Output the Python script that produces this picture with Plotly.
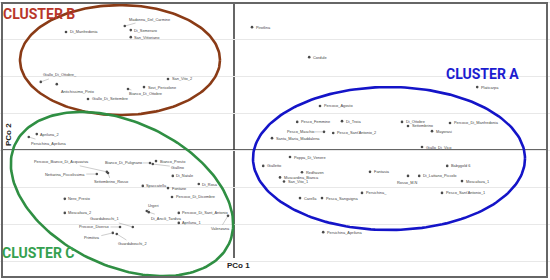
import numpy as np
import plotly.graph_objects as go

# PCoA scores (PCo 1, PCo 2), one set of lists per cluster
names_b = ["Madonna_Del_Carmine", "Di_Semeraro", "San_Vittoriano", "Di_Manfredonia",
           "Giallo_Di_Ottobre_", "Antichissimo_Pinto", "Giallo_Di_Settembre",
           "Bianco_Di_Ottobre", "Sovi_Pericolone", "San_Vito_2"]
pco1_b = [-0.273, -0.258, -0.258, -0.420, -0.483, -0.443, -0.365, -0.265, -0.225, -0.165]
pco2_b = [0.335, 0.324, 0.305, 0.319, 0.184, 0.178, 0.138, 0.165, 0.170, 0.192]

names_a = ["Pirotlina", "Cordule", "Platicarpa", "Percoco_Agosto", "Pesco_Femmine", "Di_Troia",
           "Pesco_Maschio", "Pesco_Sant'Antonio_2", "Santa_Maria_Maddalena", "Di_Ottobre",
           "Settembrino", "Percoco_Di_Manfredonia", "Mayorasi", "Giallo_Di_Vico",
           "Poppa_Di_Venere", "Gialletto", "Redhaven", "Muscardina_Bianca", "San_Vito_1",
           "Fantasia", "Carella", "Pesca_Sanguigna", "Persichina_", "Babygold 6",
           "Di_Lattano_Piccolo", "Moscafava_1", "Rosso_M.N", "Pesco_Sant'Antonio_1",
           "Persichina_Apriluna"]
pco1_a = [0.045, 0.188, 0.608, 0.215, 0.158, 0.270, 0.225, 0.248, 0.095, 0.420,
          0.435, 0.540, 0.495, 0.470, 0.140, 0.073, 0.170, 0.115, 0.125, 0.340,
          0.165, 0.220, 0.320, 0.533, 0.463, 0.570, 0.435, 0.520, 0.223]
pco2_a = [0.332, 0.251, 0.170, 0.119, 0.076, 0.078, 0.049, 0.046, 0.032, 0.076,
          0.065, 0.073, 0.051, 0.008, -0.019, -0.043, -0.060, -0.074, -0.085, -0.059,
          -0.130, -0.130, -0.116, -0.043, -0.070, -0.084, -0.070, -0.116, -0.222]

names_c = ["Apriluna_2", "Persichina_Apriluna", "Percoco_Bianco_Di_Acquaviva",
           "Nettarina_Piccolissima", "Bianco_Di_Pulignano", "Settembrino_Rosso",
           "Bianco_Presto", "Giallino", "Di_Natale", "Di_Rosa", "Spaccatella", "Fontane",
           "Percoco_Di_Dicembre", "Urgeri", "Percoco_Di_Sant_Antonio", "Di_Ancili_Tardiva",
           "Apriluna_1", "Valenzana", "Nero_Presto", "Moscafava_2", "Guardaboschi_1",
           "Precoce_Diverso", "Primitiva", "Guardaboschi_2"]
pco1_c = [-0.493, -0.513, -0.318, -0.343, -0.210, -0.315, -0.195, -0.203, -0.153, -0.088,
          -0.228, -0.165, -0.155, -0.218, -0.138, -0.213, -0.138, -0.015, -0.423, -0.423,
          -0.253, -0.285, -0.303, -0.293]
pco2_c = [0.043, 0.035, -0.059, -0.065, -0.035, -0.062, -0.030, -0.038, -0.070, -0.092,
          -0.097, -0.103, -0.127, -0.165, -0.170, -0.168, -0.197, -0.178, -0.132, -0.170,
          -0.208, -0.208, -0.224, -0.227]

# labels moved off their point, with a leader line (offset in px)
leaders_b = {"Madonna_Del_Carmine": (25, -7), "Giallo_Di_Ottobre_": (19, -7),
             "Antichissimo_Pinto": (21, 7), "Bianco_Di_Ottobre": (17, 5)}
leaders_a = {"Pesco_Maschio": (-24, 0), "Rosso_M.N": (-1, 7)}
leaders_c = {"Persichina_Apriluna": (20, 6), "Percoco_Bianco_Di_Acquaviva": (-45, -10),
             "Nettarina_Piccolissima": (-32, 0), "Bianco_Di_Pulignano": (-27, 0),
             "Settembrino_Rosso": (3, 9), "Giallino": (25, 3), "Urgeri": (7, -6),
             "Di_Ancili_Tardiva": (18, 6), "Valenzana": (-8, 13), "Guardaboschi_1": (-28, -8),
             "Precoce_Diverso": (-26, 0), "Primitiva": (-21, 5), "Guardaboschi_2": (16, 10)}

XR = [-0.585, 0.79]
YR = [-130 / 370, 150 / 370]
W, H = 550, 280
sx = W / (XR[1] - XR[0])
sy = H / (YR[1] - YR[0])

fig = go.Figure()

# cluster ellipses: centre (data), semi-axes (px), tilt (deg, clockwise)
ellipses = [((-0.285, 0.243), 100, 55, 0, "#8a3b16"),
            ((-0.28, -0.119), 118, 72, 25, "#2f8f43"),
            ((0.3875, -0.023), 136, 71.5, 0, "#1414c8")]
t = np.linspace(0, 2 * np.pi, 200)
for (cx, cy), a, b, ang, col in ellipses:
    p = np.radians(ang)
    dx = a * np.cos(t) * np.cos(p) - b * np.sin(t) * np.sin(p)
    dy = a * np.cos(t) * np.sin(p) + b * np.sin(t) * np.cos(p)
    fig.add_trace(go.Scatter(x=cx + dx / sx, y=cy - dy / sy, mode="lines",
                             line=dict(color=col, width=2.6), hoverinfo="skip"))

lab = dict(size=3.9, color="#444")
annots = []
for nm, xs, ys, lead in [(names_b, pco1_b, pco2_b, leaders_b),
                         (names_a, pco1_a, pco2_a, leaders_a),
                         (names_c, pco1_c, pco2_c, leaders_c)]:
    fig.add_trace(go.Scatter(x=xs, y=ys, mode="markers",
                             marker=dict(color="#4a4a4a", size=2.6)))
    for n, x, y in zip(nm, xs, ys):
        if n in lead:
            ax, ay = lead[n]
            annots.append(dict(x=x, y=y, text=n, showarrow=True, arrowhead=0,
                               arrowwidth=0.5, arrowcolor="#9a9a9a", ax=ax, ay=ay,
                               standoff=1, font=lab))
        else:
            annots.append(dict(x=x, y=y, text=n, showarrow=False, xanchor="left",
                               xshift=1.5, font=lab))

big = dict(family="Roboto, sans-serif", size=14)
annots += [
    dict(xref="paper", yref="paper", x=39 / W, y=1 - 14 / H, text="<b>CLUSTER B</b>",
         xanchor="center", yanchor="middle", showarrow=False, font=dict(big, color="#b8362a")),
    dict(xref="paper", yref="paper", x=38 / W, y=1 - 253 / H, text="<b>CLUSTER C</b>",
         xanchor="center", yanchor="middle", showarrow=False, font=dict(big, color="#35a04f")),
    dict(xref="paper", yref="paper", x=482 / W, y=1 - 74 / H, text="<b>CLUSTER A</b>",
         xanchor="center", yanchor="middle", showarrow=False, font=dict(big, color="#1c1cd0")),
    dict(xref="paper", yref="paper", x=8 / W, y=1 - 135 / H, text="<b>PCo 2</b>",
         xanchor="center", yanchor="middle", textangle=-90, showarrow=False,
         font=dict(family="Liberation Sans", size=8, color="#222")),
    dict(xref="paper", yref="paper", x=238 / W, y=1 - 265 / H, text="<b>PCo 1</b>",
         xanchor="center", yanchor="middle", showarrow=False,
         font=dict(family="Liberation Sans", size=8, color="#222")),
]

shapes = [
    dict(type="line", xref="paper", yref="y", x0=2 / W, x1=547 / W, y0=0, y1=0,
         line=dict(color="#333", width=1.5), layer="below"),
    dict(type="line", xref="x", yref="paper", x0=0, x1=0, y0=1 - 258 / H, y1=1 - 3 / H,
         line=dict(color="#333", width=1.5), layer="below"),
    dict(type="rect", xref="paper", yref="paper", x0=2 / W, x1=547 / W,
         y0=1 - 277 / H, y1=1 - 3 / H, line=dict(color="#666", width=2)),
]

fig.update_layout(width=W, height=H, margin=dict(l=0, r=0, t=0, b=0),
                  paper_bgcolor="white", plot_bgcolor="white", showlegend=False,
                  annotations=annots, shapes=shapes,
                  font=dict(family="Liberation Sans"))
fig.update_xaxes(range=XR, showgrid=False, zeroline=False, showticklabels=False)
fig.update_yaxes(range=YR, dtick=0.1, tick0=0, showgrid=True, gridcolor="#e8e8e8",
                 gridwidth=1, zeroline=False, showticklabels=False)

fig.write_html("out.html", config={"displayModeBar": False},
               post_script="document.body.style.margin='0';")
